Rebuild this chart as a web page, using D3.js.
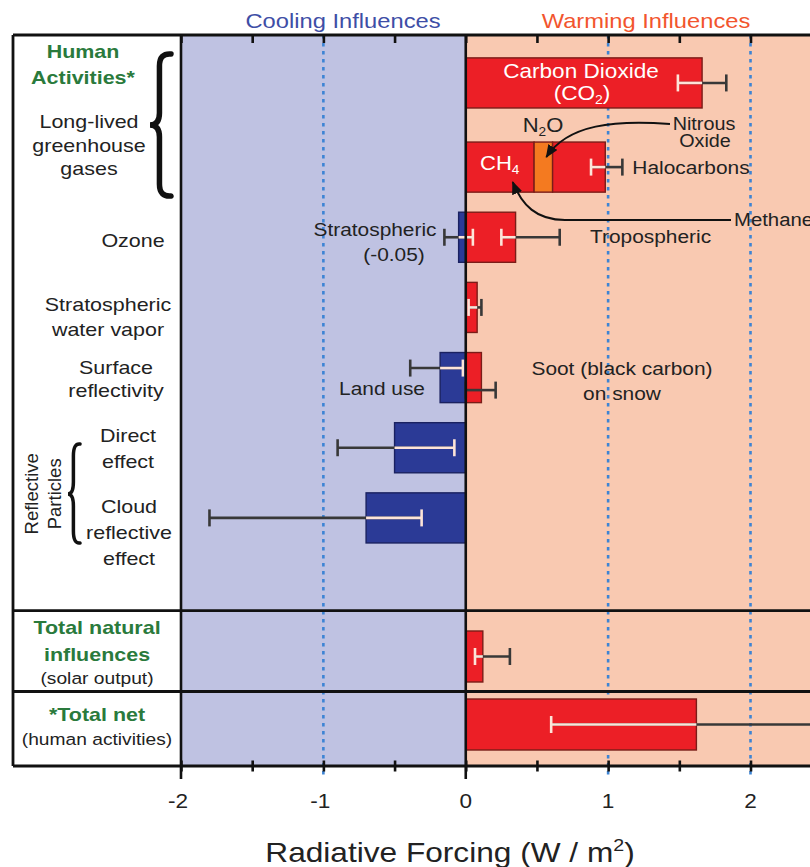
<!DOCTYPE html>
<html><head><meta charset="utf-8">
<script src="https://cdn.jsdelivr.net/npm/d3@7"></script>
<style>body{margin:0;background:#fff}svg{display:block}text{font-family:"Liberation Sans",Arial,Helvetica,sans-serif}</style>
</head><body><svg id="c" width="810" height="867"></svg>
<script>
// ---------------- DATA ----------------
const mainRows = ["co2", "ghg", "ozone", "water", "surface", "direct", "cloud"];
const totalRows = ["natural", "net"];

const barNames  = ["CO2", "CH4", "N2O", "Halocarbons", "Stratospheric ozone", "Tropospheric ozone",
                   "Stratospheric water vapor", "Land use", "Soot on snow", "Direct effect",
                   "Cloud effect", "Solar output", "Total net"];
const barRows   = ["co2", "ghg", "ghg", "ghg", "ozone", "ozone", "water", "surface", "surface",
                   "direct", "cloud", "natural", "net"];
const barValues = [1.66, 0.48, 0.13, 0.37, -0.05, 0.35, 0.08, -0.18, 0.11, -0.50, -0.70, 0.12, 1.62];

const errNames = ["CO2", "Long-lived other", "Stratospheric ozone", "Tropospheric ozone",
                  "Stratospheric water vapor", "Land use", "Soot on snow", "Direct effect",
                  "Cloud effect", "Solar output", "Total net"];
const errRows  = ["co2", "ghg", "ozone", "ozone", "water", "surface", "surface", "direct", "cloud", "natural", "net"];
const errLow   = [1.49, 0.88, -0.15, 0.25, 0.02, -0.39, 0.00, -0.90, -1.80, 0.065, 0.60];
const errHigh  = [1.83, 1.10, 0.05, 0.66, 0.11, -0.02, 0.21, -0.08, -0.31, 0.31, 2.45];

const xTickLabels = [-2, -1, 0, 1, 2];
const minorTicks  = [-2, -1.5, -1, -0.5, 0, 0.5, 1, 1.5, 2, 2.5];
const dottedAt    = [-1, 1, 2];

// ---------------- LAYOUT ----------------
const svg = d3.select("#c");
const frameL = 13, frameT = 35, frameB = 766, rightEdge = 830;
const x = d3.scaleLinear().domain([-2, 2]).range([181, 750.5]);

const yMain = d3.scaleBand().domain(mainRows.slice(1)).range([121, 564]).paddingInner(0.286).paddingOuter(0.3);
const yTot  = d3.scaleBand().domain(totalRows).range([610.6, 770.4]).paddingInner(0.25).paddingOuter(0.3);
const rowTop = r => r === "co2" ? yMain("ghg") - yMain.step() - 14
                  : mainRows.includes(r) ? yMain(r) : yTot(r);
const rowBW = r => mainRows.includes(r) ? yMain.bandwidth() : yTot.bandwidth();
const rowMid = r => rowTop(r) + rowBW(r) / 2;

const COOL = "#bfc2e2", WARM = "#f9c9b1", RED = "#ec1f26", BLUE = "#2b3a96", ORANGE = "#f47a20";
const INK = "#222", GREEN = "#2a7a3c", DOT = "#3d84d4";
const SX = 1.13;

function txt(parent, s, tx, ty, o = {}) {
  const size = o.size || 19;
  const t = parent.append("text")
    .attr("transform", `translate(${tx},${ty}) scale(${o.sx || SX},1)`)
    .attr("text-anchor", o.anchor || "middle")
    .attr("font-size", size)
    .attr("font-weight", o.weight || "normal")
    .attr("fill", o.fill || INK);
  if (Array.isArray(s)) {
    s.forEach(p => {
      const sp = t.append("tspan").text(p.t);
      if (p.sub) sp.attr("font-size", size * 0.62).attr("dy", size * 0.22);
      if (p.back) sp.attr("dy", -size * 0.22);
      if (p.sup) sp.attr("font-size", size * 0.62).attr("dy", -size * 0.38);
      if (p.down) sp.attr("dy", size * 0.38);
    });
  } else t.text(s);
  return t;
}

// backgrounds
svg.append("rect").attr("x", x(-2)).attr("y", frameT).attr("width", x(0) - x(-2)).attr("height", frameB - frameT).attr("fill", COOL);
svg.append("rect").attr("x", x(0)).attr("y", frameT).attr("width", rightEdge - x(0)).attr("height", frameB - frameT).attr("fill", WARM);

// dotted guide lines
svg.selectAll("line.dot").data(dottedAt).join("line").attr("class", "dot")
  .attr("x1", d => x(d)).attr("x2", d => x(d)).attr("y1", frameT).attr("y2", 779)
  .attr("stroke", DOT).attr("stroke-width", 2.6).attr("stroke-dasharray", "3.5,4.5");

// bars (stacked within rows by sign)
const acc = {};
const bars = barValues.map((v, i) => {
  const r = barRows[i], key = r + (v < 0 ? "-" : "+");
  const s = acc[key] || 0; acc[key] = s + v;
  return { name: barNames[i], row: r, v0: s, v1: s + v };
});
svg.selectAll("rect.bar").data(bars).join("rect").attr("class", "bar")
  .attr("x", d => x(Math.min(d.v0, d.v1))).attr("width", d => Math.abs(x(d.v1) - x(d.v0)))
  .attr("y", d => rowTop(d.row)).attr("height", d => rowBW(d.row))
  .attr("fill", d => d.name === "N2O" ? ORANGE : (d.v1 < 0 ? BLUE : RED))
  .attr("stroke", d => d.v1 < 0 ? "#1a2160" : "#7a1d18").attr("stroke-width", 1.4);

// error bars: light inside the bars of that row, dark outside
const extent = {};
bars.forEach(b => {
  const e = extent[b.row] || [0, 0];
  extent[b.row] = [Math.min(e[0], b.v0, b.v1), Math.max(e[1], b.v0, b.v1)];
});
const errPos = { "Land use": 0.31, "Soot on snow": 0.75 };
const alwaysDark = new Set(["Soot on snow"]);
const DARK = "#383838", LIGHT = "#fde4d8", CAP = 8.5;
const gE = svg.append("g").attr("stroke-width", 2.6).attr("fill", "none");
errNames.forEach((n, i) => {
  const r = errRows[i], lo = errLow[i], hi = errHigh[i];
  const yy = rowTop(r) + rowBW(r) * (errPos[n] ?? 0.5);
  const [e0, e1] = alwaysDark.has(n) ? [0, 0] : extent[r];
  const inside = v => v > e0 + 1e-9 && v < e1 - 1e-9;
  gE.append("line").attr("x1", x(lo)).attr("x2", x(hi)).attr("y1", yy).attr("y2", yy).attr("stroke", DARK);
  const a = Math.max(lo, e0), b = Math.min(hi, e1);
  if (!alwaysDark.has(n) && b > a)
    gE.append("line").attr("x1", x(a)).attr("x2", x(b)).attr("y1", yy).attr("y2", yy).attr("stroke", LIGHT);
  [lo, hi].forEach(v => {
    gE.append("line").attr("x1", x(v)).attr("x2", x(v)).attr("y1", yy - CAP).attr("y2", yy + CAP)
      .attr("stroke", inside(v) ? LIGHT : DARK);
  });
});

// solid vertical lines at -2 and 0
svg.selectAll("line.solid").data([-2, 0]).join("line").attr("class", "solid")
  .attr("x1", d => x(d)).attr("x2", d => x(d)).attr("y1", frameT).attr("y2", 779)
  .attr("stroke", "#111").attr("stroke-width", 2.6);

// frame and separators
const sepMid = (rowTop("natural") + rowBW("natural") + rowTop("net")) / 2 + 1;
const fr = svg.append("g").attr("stroke", "#111").attr("stroke-width", 2.8);
fr.append("line").attr("x1", frameL).attr("x2", rightEdge).attr("y1", frameT).attr("y2", frameT);
fr.append("line").attr("x1", frameL).attr("x2", rightEdge).attr("y1", frameB).attr("y2", frameB);
fr.append("line").attr("x1", frameL).attr("x2", frameL).attr("y1", frameT).attr("y2", frameB);
fr.append("line").attr("x1", frameL).attr("x2", rightEdge).attr("y1", yTot.range()[0]).attr("y2", yTot.range()[0]);
fr.append("line").attr("x1", frameL).attr("x2", rightEdge).attr("y1", sepMid).attr("y2", sepMid);

// ticks (top, inward) and bottom (crossing frame)
const topAx = svg.append("g").attr("transform", `translate(0,${frameT})`)
  .call(d3.axisBottom(x).tickValues(minorTicks).tickSize(8).tickFormat(""));
topAx.select(".domain").remove();
topAx.selectAll("line").attr("stroke", "#111").attr("stroke-width", 2.6);
const botAx = svg.append("g").attr("transform", `translate(0,${frameB - 5.5})`)
  .call(d3.axisBottom(x).tickValues(minorTicks).tickSize(11).tickFormat(""));
botAx.select(".domain").remove();
botAx.selectAll("line").attr("stroke", "#111").attr("stroke-width", 2.6);

// tick labels
svg.selectAll("g.tl").data(xTickLabels).join("g").attr("class", "tl")
  .each(function (d) { txt(d3.select(this), String(d), x(d) - (d < 0 ? 3 : 0), 808, { size: 20 }); });

// axis title
txt(svg, [{ t: "Radiative Forcing (W / m" }, { t: "2", sup: 1 }, { t: ")" }], 450, 862, { size: 28 })
  .selectAll("tspan").filter((d, i) => i === 2).attr("dy", 28 * 0.38);

// column titles
txt(svg, "Cooling Influences", 343, 28, { size: 21, fill: "#3e4ea6" });
txt(svg, "Warming Influences", 646, 28, { size: 21, fill: "#f2552e" });

// ---------------- LEFT LABELS ----------------
const L = svg.append("g");
const lab = (row, cx, lines) => lines.forEach(l =>
  txt(L, l.t, cx, rowMid(row) + l.dy, { size: l.size || 19, weight: l.bold ? "bold" : "normal", fill: l.green ? GREEN : INK }));
lab("co2", 83, [{ t: "Human", dy: -25, bold: 1, green: 1 }, { t: "Activities*", dy: 1, bold: 1, green: 1 }]);
lab("ghg", 89, [{ t: "Long-lived", dy: -39 }, { t: "greenhouse", dy: -15 }, { t: "gases", dy: 8 }]);
lab("ozone", 133, [{ t: "Ozone", dy: 10 }]);
lab("water", 108, [{ t: "Stratospheric", dy: 4 }, { t: "water vapor", dy: 28.5 }]);
lab("surface", 116, [{ t: "Surface", dy: -4 }, { t: "reflectivity", dy: 19.5 }]);
lab("direct", 128, [{ t: "Direct", dy: -6 }, { t: "effect", dy: 20 }]);
lab("cloud", 129, [{ t: "Cloud", dy: -5 }, { t: "reflective", dy: 21.5 }, { t: "effect", dy: 47 }]);
lab("natural", 97, [{ t: "Total natural", dy: -23, bold: 1, green: 1 }, { t: "influences", dy: 4.5, bold: 1, green: 1 }, { t: "(solar output)", dy: 27.5, size: 17 }]);
lab("net", 97, [{ t: "*Total net", dy: -3.5, bold: 1, green: 1 }, { t: "(human activities)", dy: 20.5, size: 17 }]);

// rotated "Reflective Particles"
const rp = (rowMid("direct") + rowMid("cloud")) / 2 + 11;
L.append("text").attr("transform", `translate(38,${rp}) rotate(-90)`).attr("text-anchor", "middle").attr("font-size", 18.5).attr("fill", INK).text("Reflective");
L.append("text").attr("transform", `translate(61,${rp}) rotate(-90)`).attr("text-anchor", "middle").attr("font-size", 18.5).attr("fill", INK).text("Particles");

// braces
function brace(xTip, w, y0, y1, ym, sw) {
  const xm = xTip + w * 0.45, r = Math.min(12, (ym - y0) / 4);
  const p = `M${xTip + w},${y0} Q${xm},${y0 - 1} ${xm},${y0 + r} L${xm},${ym - r} Q${xm},${ym} ${xTip},${ym}` +
            ` Q${xm},${ym} ${xm},${ym + r} L${xm},${y1 - r} Q${xm},${y1 + 1} ${xTip + w},${y1}`;
  L.append("path").attr("d", p).attr("fill", "none").attr("stroke", "#111").attr("stroke-width", sw).attr("stroke-linecap", "round");
}
brace(150, 21, 54, 196, 125, 5.5);
brace(68, 12, 444, 543, 494, 3.5);

// ---------------- IN-PLOT ANNOTATIONS ----------------
const A = svg.append("g");
txt(A, "Carbon Dioxide", 581, rowMid("co2") - 5, { size: 20, fill: "#fff" });
txt(A, [{ t: "(CO" }, { t: "2", sub: 1 }, { t: ")", back: 1 }], 582, rowMid("co2") + 17, { size: 20, fill: "#fff" });
txt(A, [{ t: "CH" }, { t: "4", sub: 1 }], 480, rowMid("ghg") + 3, { size: 19.5, fill: "#fff", anchor: "start" });
txt(A, [{ t: "N" }, { t: "2", sub: 1 }, { t: "O", back: 1 }], 543, rowTop("ghg") - 10, { size: 19.5 });
txt(A, "Nitrous", 704, 130, { size: 17.5 });
txt(A, "Oxide", 705, 147, { size: 17.5 });
txt(A, "Halocarbons", x(errHigh[1]) + 10, rowMid("ghg") + 7, { size: 18.5, anchor: "start" });
txt(A, "Methane", 734, 226, { size: 18, anchor: "start" });
txt(A, "Tropospheric", 590, rowMid("ozone") + 6, { size: 18.5, anchor: "start" });
txt(A, "Stratospheric", 375, rowMid("ozone") - 1, { size: 18.5 });
txt(A, "(-0.05)", 394, rowMid("ozone") + 24, { size: 18.5 });
txt(A, "Land use", 382, rowMid("surface") + 17, { size: 18.5 });
txt(A, "Soot (black carbon)", 622, rowMid("surface") - 3, { size: 18.5 });
txt(A, "on snow", 622, rowMid("surface") + 22, { size: 18.5 });

// arrows
svg.append("defs").append("marker").attr("id", "ah").attr("viewBox", "0 0 12 10")
  .attr("refX", 11).attr("refY", 5).attr("markerWidth", 13).attr("markerHeight", 11)
  .attr("markerUnits", "userSpaceOnUse").attr("orient", "auto")
  .append("path").attr("d", "M0,0 L12,5 L0,10 z").attr("fill", "#111");
const n2oMid = x(0.48 + 0.065);
A.append("path").attr("d", `M670,124 C615,120 568,124 ${n2oMid + 3},${rowTop("ghg") + 15}`)
  .attr("fill", "none").attr("stroke", "#111").attr("stroke-width", 2).attr("marker-end", "url(#ah)");
A.append("path").attr("d", `M731,220 L565,220 C536,220 522,205 ${x(0.33)},${rowMid("ghg") + 15}`)
  .attr("fill", "none").attr("stroke", "#111").attr("stroke-width", 2).attr("marker-end", "url(#ah)");
</script></body></html>
